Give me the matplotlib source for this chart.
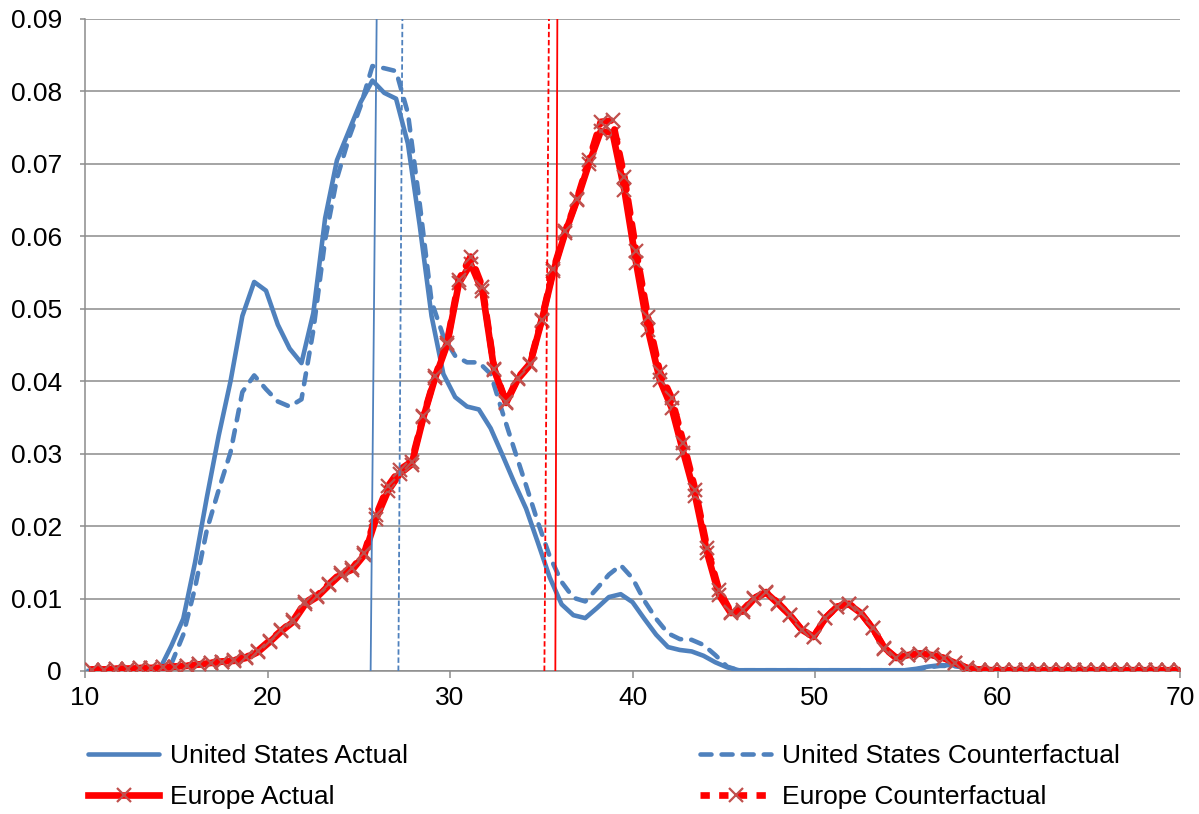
import numpy as np
import matplotlib.pyplot as plt
from matplotlib.lines import Line2D

plt.rcParams['font.family'] = ['Liberation Sans', 'DejaVu Sans']

# age grids of the density estimates (93 points each)
us_ages = np.linspace(10.2, 69.8, 93)
eu_ages = np.linspace(10.4, 70.0, 93)

us_actual = [
    0.0, 0.0, 0.0, 0.0, 0.0, 0.0, 0.0002, 0.0035, 0.0072, 0.0150,
    0.0240, 0.0325, 0.0400, 0.0490, 0.0537, 0.0525, 0.0478, 0.0445, 0.0425, 0.0494,
    0.0625, 0.0705, 0.0745, 0.0785, 0.0815, 0.0798, 0.0790, 0.0728, 0.0615, 0.0490,
    0.0410, 0.0378, 0.0365, 0.0361, 0.0335, 0.0298, 0.0260, 0.0224, 0.0177, 0.0129,
    0.0092, 0.0077, 0.0073, 0.0087, 0.0102, 0.0106, 0.0095, 0.0072, 0.0050, 0.0033,
    0.0029, 0.0027, 0.0021, 0.0012, 0.0005, 0.0001, 0.0001, 0.0001, 0.0001, 0.0001,
    0.0001, 0.0001, 0.0001, 0.0001, 0.0001, 0.0001, 0.0001, 0.0001, 0.0001, 0.0001,
    0.0003, 0.0006, 0.0008, 0.0008, 0.0006, 0.0003, 0.0001, 0.0, 0.0, 0.0,
    0.0, 0.0, 0.0, 0.0, 0.0, 0.0, 0.0, 0.0, 0.0, 0.0,
    0.0, 0.0, 0.0,
]

us_counter = [
    0.0, 0.0, 0.0, 0.0, 0.0, 0.0, 0.0, 0.0010, 0.0050, 0.0115,
    0.0195, 0.0250, 0.0302, 0.0385, 0.0408, 0.0389, 0.0372, 0.0365, 0.0375, 0.0470,
    0.0595, 0.0680, 0.0735, 0.0780, 0.0835, 0.0832, 0.0828, 0.0770, 0.0645, 0.0510,
    0.0462, 0.0435, 0.0426, 0.0426, 0.0410, 0.0357, 0.0306, 0.0256, 0.0205, 0.0158,
    0.0123, 0.0101, 0.0096, 0.0114, 0.0133, 0.0146, 0.0128, 0.0097, 0.0072, 0.0052,
    0.0044, 0.0043, 0.0036, 0.0022, 0.0006, 0.0001, 0.0001, 0.0001, 0.0001, 0.0001,
    0.0001, 0.0001, 0.0001, 0.0001, 0.0001, 0.0001, 0.0001, 0.0001, 0.0001, 0.0001,
    0.0002, 0.0005, 0.0007, 0.0007, 0.0005, 0.0002, 0.0001, 0.0, 0.0, 0.0,
    0.0, 0.0, 0.0, 0.0, 0.0, 0.0, 0.0, 0.0, 0.0, 0.0,
    0.0, 0.0, 0.0,
]

eu_actual = [
    0.0002, 0.0002, 0.0003, 0.0003, 0.0004, 0.0004, 0.0005, 0.0006, 0.0007, 0.0009,
    0.0011, 0.0013, 0.0014, 0.0018, 0.0026, 0.0040, 0.0055, 0.0068, 0.0092, 0.0102,
    0.0118, 0.0133, 0.0140, 0.0160, 0.0210, 0.0248, 0.0272, 0.0285, 0.0350, 0.0405,
    0.0450, 0.0535, 0.0562, 0.0524, 0.0415, 0.0370, 0.0403, 0.0422, 0.0483, 0.0552,
    0.0605, 0.0650, 0.0700, 0.0745, 0.0743, 0.0664, 0.0563, 0.0471, 0.0402, 0.0363,
    0.0301, 0.0241, 0.0163, 0.0105, 0.0080, 0.0082, 0.0100, 0.0108, 0.0093, 0.0077,
    0.0057, 0.0047, 0.0073, 0.0089, 0.0092, 0.0080, 0.0059, 0.0032, 0.0018, 0.0022,
    0.0024, 0.0022, 0.0018, 0.0011, 0.0004, 0.0002, 0.0001, 0.0001, 0.0001, 0.0001,
    0.0001, 0.0001, 0.0001, 0.0001, 0.0001, 0.0001, 0.0001, 0.0001, 0.0001, 0.0001,
    0.0001, 0.0001, 0.0001,
]

eu_counter = [
    0.0002, 0.0002, 0.0003, 0.0003, 0.0004, 0.0004, 0.0005, 0.0006, 0.0007, 0.0009,
    0.0011, 0.0013, 0.0015, 0.0019, 0.0028, 0.0042, 0.0056, 0.0070, 0.0095, 0.0104,
    0.0120, 0.0135, 0.0142, 0.0163, 0.0215, 0.0255, 0.0278, 0.0289, 0.0352, 0.0407,
    0.0453, 0.0540, 0.0572, 0.0530, 0.0417, 0.0371, 0.0405, 0.0424, 0.0485, 0.0555,
    0.0607, 0.0652, 0.0705, 0.0758, 0.0760, 0.0682, 0.0580, 0.0488, 0.0413, 0.0377,
    0.0315, 0.0250, 0.0170, 0.0112, 0.0082, 0.0084, 0.0101, 0.0109, 0.0094, 0.0077,
    0.0057, 0.0047, 0.0073, 0.0089, 0.0093, 0.0080, 0.0059, 0.0031, 0.0018, 0.0022,
    0.0024, 0.0022, 0.0018, 0.0011, 0.0004, 0.0002, 0.0001, 0.0001, 0.0001, 0.0001,
    0.0001, 0.0001, 0.0001, 0.0001, 0.0001, 0.0001, 0.0001, 0.0001, 0.0001, 0.0001,
    0.0001, 0.0001, 0.0001,
]

# mean-age reference lines (bottom x, top x)
us_actual_mean = [25.65, 25.98]
us_counter_mean = [27.17, 27.39]
eu_actual_mean = [35.77, 35.88]
eu_counter_mean = [35.17, 35.42]
mean_y = [0.0, 0.09]

labels = ["United States Actual", "United States Counterfactual",
          "Europe Actual", "Europe Counterfactual"]

blue = '#4F81BD'
red = '#FF0000'
xcol = '#C0504D'
grid_col = '#8C8C8C'

fig = plt.figure(figsize=(11.99, 8.14), dpi=100)
ax = fig.add_axes([0.0709, 0.1757, 0.9133, 0.801])

ax.plot(us_ages, us_actual, color=blue, lw=3.3, solid_joinstyle='round', zorder=3)
ax.plot(us_ages, us_counter, color=blue, lw=3.3, linestyle=(0, (2.4, 2.2)),
        dash_capstyle='round', zorder=3)
ax.plot(eu_ages, eu_actual, color=red, lw=4.8, marker='x', ms=10, mew=1.6,
        mec=xcol, solid_joinstyle='round', zorder=4)
ax.plot(eu_ages, eu_counter, color=red, lw=4.8, linestyle=(0, (2.0, 1.6)),
        dash_capstyle='round', marker='x', ms=10, mew=1.6, mec=xcol, zorder=4)

ax.plot(us_actual_mean, mean_y, color=blue, lw=1.3, zorder=5)
ax.plot(us_counter_mean, mean_y, color=blue, lw=1.3, linestyle=(0, (3, 1.5)), zorder=5)
ax.plot(eu_actual_mean, mean_y, color=red, lw=1.3, zorder=5)
ax.plot(eu_counter_mean, mean_y, color=red, lw=1.3, linestyle=(0, (3, 1.5)), zorder=5)

ax.set_xlim(10, 70)
ax.set_ylim(0, 0.09)
ax.set_xticks(range(10, 71, 10))
ax.set_yticks(np.arange(0, 0.0901, 0.01))
ax.set_yticklabels(['0'] + ['%.2f' % v for v in np.arange(0.01, 0.0901, 0.01)])

ax.grid(axis='y', color=grid_col, lw=1.1, zorder=0)
ax.set_axisbelow(True)
for s in ['top', 'right']:
    ax.spines[s].set_visible(False)
for s in ['left', 'bottom']:
    ax.spines[s].set_color(grid_col)
    ax.spines[s].set_linewidth(1.1)
ax.tick_params(axis='x', length=5, width=1.1, color=grid_col, pad=6, labelsize=19)
ax.tick_params(axis='y', length=3.5, width=1.1, color=grid_col, pad=13, labelsize=19)

h_usa = Line2D([], [], color=blue, lw=3.3, solid_capstyle='round')
h_usc = Line2D([], [], color=blue, lw=3.3, linestyle=(0, (2.4, 2.2)), dash_capstyle='round')
h_eua = Line2D([], [], color=red, lw=4.8, marker='x', ms=10, mew=1.6, mec=xcol)
h_euc = Line2D([], [], color=red, lw=4.8, linestyle=(0, (1.4, 1.4)), marker='x',
               ms=10, mew=1.6, mec=xcol)

leg_kw = dict(loc='center left', frameon=False, fontsize=19, handlelength=2.7,
              handletextpad=0.4, labelspacing=0.64, borderpad=0, borderaxespad=0,
              numpoints=1)
fig.legend([h_usa, h_eua], [labels[0], labels[2]],
           bbox_to_anchor=(0.0734, 0.046), **leg_kw)
fig.legend([h_usc, h_euc], [labels[1], labels[3]],
           bbox_to_anchor=(0.584, 0.046), **leg_kw)

fig.savefig('out.png', dpi=100)
